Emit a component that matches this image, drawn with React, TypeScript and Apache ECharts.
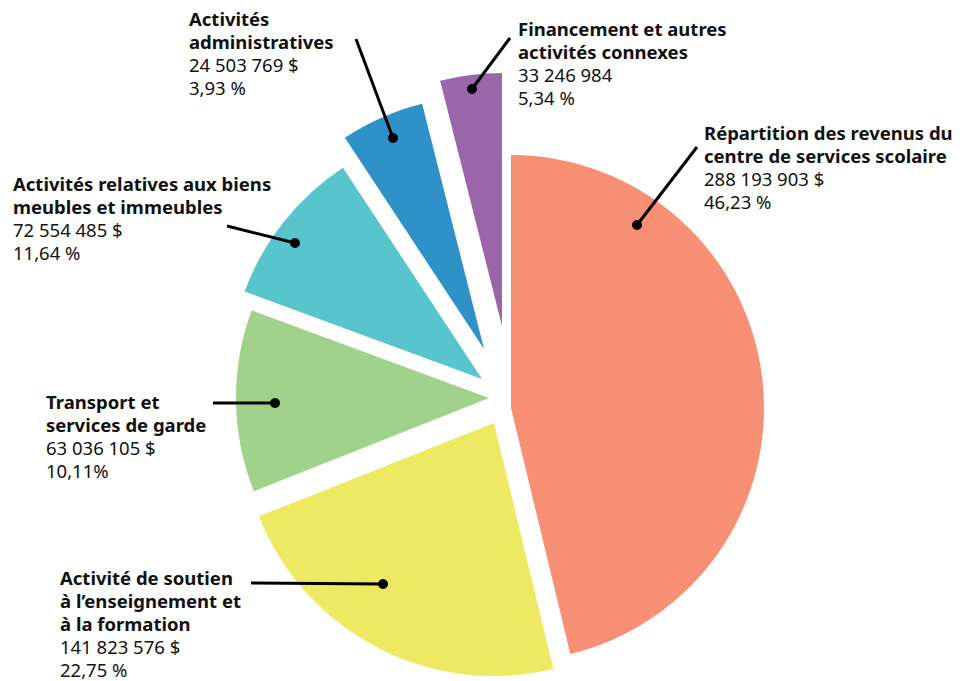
import { useEffect, useRef } from "react";
import * as echarts from "echarts";

// ---- data (clockwise from 12 o'clock, as the slices are sized in the picture) ----
const categories = [
  "Répartition des revenus du\ncentre de services scolaire",
  "Activité de soutien\nà l’enseignement et\nà la formation",
  "Activités relatives aux biens\nmeubles et immeubles",
  "Transport et\nservices de garde",
  "Financement et autres\nactivités connexes",
  "Activités\nadministratives",
];
const values = [288193903, 141823576, 72554485, 63036105, 33246984, 24503769];
const valueLabels = [
  "288 193 903 $",
  "141 823 576 $",
  "72 554 485 $",
  "63 036 105 $",
  "33 246 984",
  "24 503 769 $",
];
const percentLabels = ["46,23 %", "22,75 %", "11,64 %", "10,11%", "5,34 %", "3,93 %"];

// ---- styles / layout ----
const colors = ["#F68F73", "#EDE962", "#A1D28B", "#58C5CC", "#2E92C8", "#9A66A9"];
const RADIUS = 253;
// centre of each (exploded) slice, by slice order
const sliceCenters = [
  [511, 408],
  [494, 423],
  [489, 398],
  [482, 379],
  [484, 349],
  [502, 326],
];
// label: left x, first-line baseline
const labelPositions = [
  [704, 140],
  [60, 584.5],
  [13, 191],
  [46, 409],
  [518, 36],
  [189, 26],
];
// leader lines: [text end, dot]
const leaderLines = [
  [[697, 147], [637, 225]],
  [[251, 583], [383, 584]],
  [[227, 226], [295, 243]],
  [[213, 403], [275, 403]],
  [[510, 38], [472, 89]],
  [[356, 39], [393, 138]],
];
const FONT = "'Noto Sans', 'Open Sans', sans-serif";
const FONT_SIZE = 18.5;
const LINE_H = 23;
const BASELINE_OFFSET = 18.7;

export default function App() {
  const ref = useRef<HTMLDivElement>(null);
  useEffect(() => {
    if (!ref.current) return;
    const chart = echarts.init(ref.current, null, { renderer: "svg" });

    const series = values.map((_, i) => ({
      type: "pie",
      silent: true,
      center: sliceCenters[i],
      radius: [0, RADIUS],
      startAngle: 90,
      clockwise: true,
      avoidLabelOverlap: false,
      emphasis: { disabled: true },
      labelLine: { show: false },
      label: {
        show: true,
        position: "outside",
        fontFamily: FONT,
        fontSize: FONT_SIZE,
        color: "#111",
        formatter: (p: any) => {
          const j = p.dataIndex;
          const nameLines = categories[j].split("\n").map((l) => `{b|${l}}`);
          return [...nameLines, `{v|${valueLabels[j]}}`, `{v|${percentLabels[j]}}`].join("\n");
        },
        rich: {
          b: { fontFamily: FONT, fontSize: FONT_SIZE, fontWeight: "bold", lineHeight: LINE_H, color: "#111" },
          v: { fontFamily: FONT, fontSize: FONT_SIZE, fontWeight: "normal", lineHeight: LINE_H, color: "#111" },
        },
      },
      labelLayout: (params: any) => {
        const [x, b] = labelPositions[params.dataIndex];
        return { x, y: b - BASELINE_OFFSET, align: "left", verticalAlign: "top" };
      },
      data: values.map((v, j) => ({
        value: v,
        name: categories[j],
        itemStyle: { color: j === i ? colors[j] : "rgba(0,0,0,0)" },
        label: { show: j === i },
      })),
    }));

    const graphics: any[] = [];
    leaderLines.forEach(([a, b]) => {
      graphics.push({
        type: "line",
        shape: { x1: a[0], y1: a[1], x2: b[0], y2: b[1] },
        style: { stroke: "#000", lineWidth: 3 },
        z: 100,
      });
      graphics.push({
        type: "circle",
        shape: { cx: b[0], cy: b[1], r: 5 },
        style: { fill: "#000" },
        z: 100,
      });
    });

    chart.setOption({
      animation: false,
      backgroundColor: "#fff",
      series,
      graphic: graphics,
    } as any);

    return () => chart.dispose();
  }, []);

  return (
    <div
      ref={ref}
      style={{ position: "absolute", left: 0, top: 0, width: 966, height: 681 }}
    />
  );
}
